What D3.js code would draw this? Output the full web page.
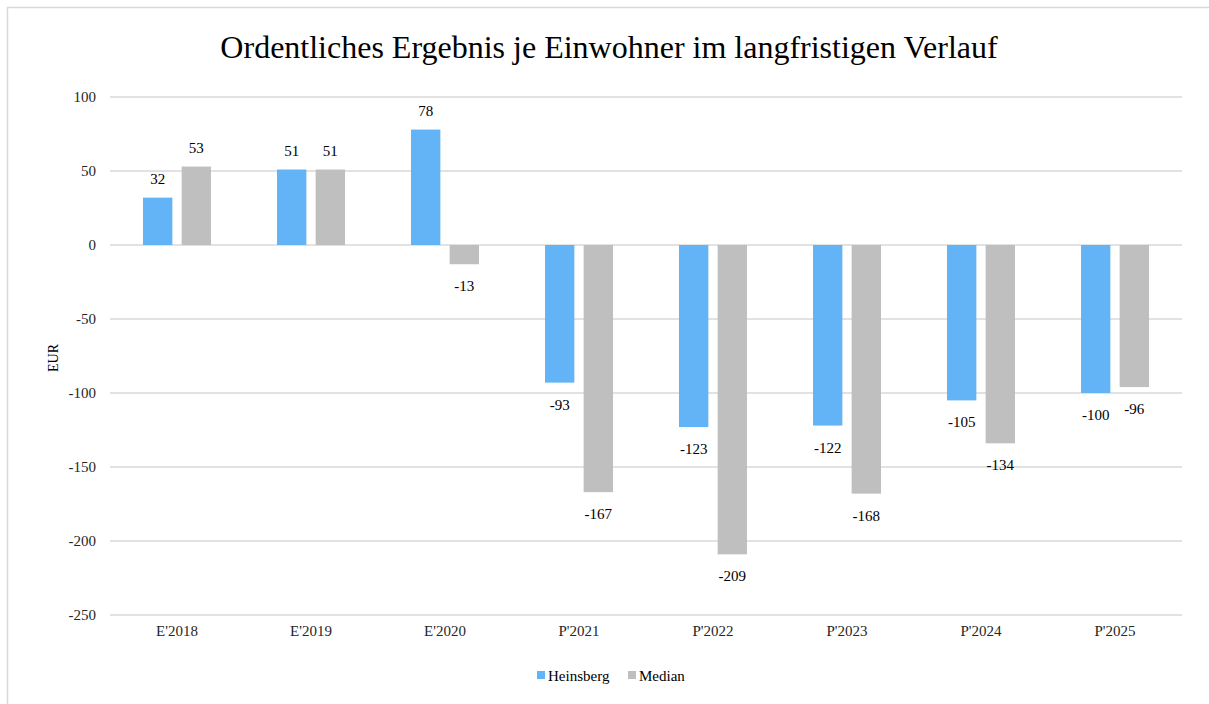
<!DOCTYPE html>
<html>
<head>
<meta charset="utf-8">
<script src="https://cdn.jsdelivr.net/npm/d3@7"></script>
<style>
  body { margin:0; background:#fff; }
  text { font-family:"Liberation Serif", "Times New Roman", serif; }
</style>
</head>
<body>
<svg></svg>
<script>
var categories = ["E'2018","E'2019","E'2020","P'2021","P'2022","P'2023","P'2024","P'2025"];
var seriesNames = ["Heinsberg","Median"];
var heinsberg = [32, 51, 78, -93, -123, -122, -105, -100];
var median = [53, 51, -13, -167, -209, -168, -134, -96];
var yTicks = [100, 50, 0, -50, -100, -150, -200, -250];
var colors = ["#63b4f6", "#bfbfbf"];

var screen = { width:1209, height:704 };
var svg = d3.select("svg")
  .attr("width", screen.width)
  .attr("height", screen.height);

// chart border
svg.append("rect")
  .attr("x", 7.5).attr("y", 7.5)
  .attr("width", 1215).attr("height", 720)
  .attr("fill", "none")
  .attr("stroke", "#d9d9d9")
  .attr("stroke-width", 1.5);

var margins = { top:97, left:110, right:27, bottom:89 };
var width = screen.width - margins.left - margins.right;
var height = screen.height - margins.top - margins.bottom;

var xScale = d3.scaleBand().domain(categories).range([0, width]);
var xInner = d3.scaleBand().domain(seriesNames)
  .range([xScale.bandwidth()/2 - 34, xScale.bandwidth()/2 + 34])
  .paddingInner(0.24);
var yScale = d3.scaleLinear().domain([-250, 100]).range([height, 0]);

var plot = svg.append("g")
  .attr("transform", "translate(" + margins.left + "," + margins.top + ")");

// gridlines
plot.selectAll("line.grid")
  .data(yTicks)
  .enter()
  .append("line")
  .attr("x1", 0).attr("x2", width)
  .attr("y1", function(d){ return yScale(d); })
  .attr("y2", function(d){ return yScale(d); })
  .attr("stroke", "#d9d9d9")
  .attr("stroke-width", 1.5);

// y axis labels
var yAxis = d3.axisLeft(yScale).tickValues(yTicks)
  .tickFormat(function(d){ return String(d); })
  .tickSize(0).tickPadding(14);
plot.append("g").call(yAxis)
  .call(function(g){ g.select(".domain").remove(); })
  .selectAll("text")
  .attr("font-size", 15)
  .attr("fill", "#262626")
  .style("font-family", "Liberation Serif, serif");

// x axis labels
var xAxis = d3.axisBottom(xScale).tickSize(0).tickPadding(10);
plot.append("g")
  .attr("transform", "translate(0," + height + ")")
  .call(xAxis)
  .call(function(g){ g.select(".domain").remove(); })
  .selectAll("text")
  .attr("font-size", 15)
  .attr("fill", "#262626")
  .style("font-family", "Liberation Serif, serif");

var rows = categories.map(function(c, i) {
  return { cat:c, vals:[
    { name:seriesNames[0], v:heinsberg[i], c:colors[0] },
    { name:seriesNames[1], v:median[i], c:colors[1] }
  ]};
});

var groups = plot.selectAll("g.cat")
  .data(rows)
  .enter()
  .append("g")
  .attr("class", "cat")
  .attr("transform", function(d){ return "translate(" + xScale(d.cat) + ",0)"; });

groups.selectAll("rect")
  .data(function(d){ return d.vals; })
  .enter()
  .append("rect")
  .attr("x", function(d){ return xInner(d.name); })
  .attr("width", xInner.bandwidth())
  .attr("y", function(d){ return yScale(Math.max(0, d.v)); })
  .attr("height", function(d){ return Math.abs(yScale(d.v) - yScale(0)); })
  .attr("fill", function(d){ return d.c; });

groups.selectAll("text.lbl")
  .data(function(d){ return d.vals; })
  .enter()
  .append("text")
  .attr("class", "lbl")
  .attr("x", function(d){ return xInner(d.name) + xInner.bandwidth()/2; })
  .attr("y", function(d){ return d.v >= 0 ? yScale(d.v) - 14 : yScale(d.v) + 27; })
  .attr("text-anchor", "middle")
  .attr("font-size", 15)
  .attr("fill", "#000")
  .text(function(d){ return d.v; });

// title
svg.append("text")
  .attr("x", 609).attr("y", 58)
  .attr("text-anchor", "middle")
  .attr("font-size", 32)
  .attr("fill", "#000")
  .text("Ordentliches Ergebnis je Einwohner im langfristigen Verlauf");

// y axis title
svg.append("text")
  .attr("transform", "translate(58,358) rotate(-90)")
  .attr("text-anchor", "middle")
  .attr("font-size", 14)
  .attr("fill", "#000")
  .text("EUR");

// legend
var legend = svg.append("g").attr("transform", "translate(537,681)");
var legendItems = legend.selectAll("g")
  .data(seriesNames)
  .enter()
  .append("g")
  .attr("transform", function(d,i){ return "translate(" + (i*91) + ",0)"; });
legendItems.append("rect")
  .attr("x", 0).attr("y", -10)
  .attr("width", 8).attr("height", 8)
  .attr("fill", function(d,i){ return colors[i]; });
legendItems.append("text")
  .attr("x", 11).attr("y", 0)
  .attr("font-size", 15)
  .attr("fill", "#000")
  .text(function(d){ return d; });
</script>
</body>
</html>
